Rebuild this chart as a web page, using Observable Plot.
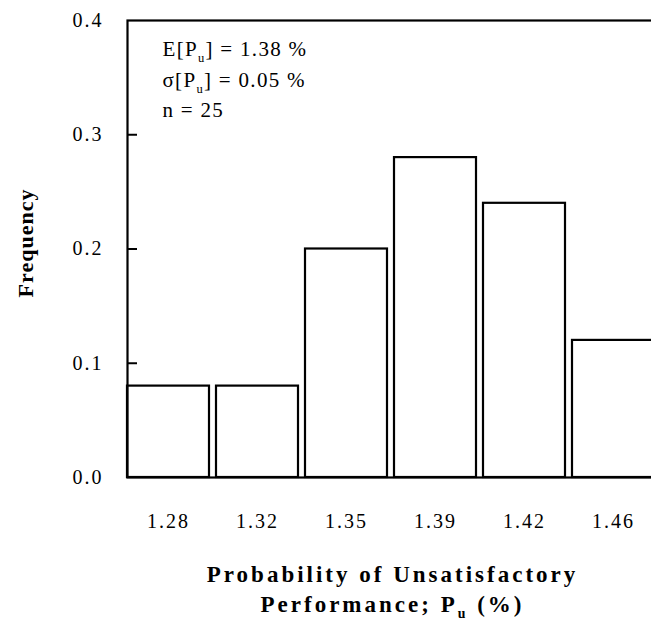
<!DOCTYPE html>
<html><head><meta charset="utf-8">
<script src="https://cdn.jsdelivr.net/npm/d3@7"></script>
<script src="https://cdn.jsdelivr.net/npm/@observablehq/plot@0.6"></script>
<style>
html,body{margin:0;padding:0;background:#fff;overflow:hidden;}
</style></head><body><div id="chart"></div>
<script>
const bins = ["1.28","1.32","1.35","1.39","1.42","1.46"];
const frequency = [0.08, 0.08, 0.20, 0.28, 0.24, 0.12];
const yTicks = [0, 0.1, 0.2, 0.3, 0.4];
const statsLines = ["E[P_u] = 1.38 %", "σ[P_u] = 0.05 %", "n = 25"];
const xLabelLines = ["Probability of Unsatisfactory", "Performance; P_u (%)"];
const yLabel = "Frequency";

const data = bins.map((b, i) => ({bin: b, freq: frequency[i]}));
const serif = "'Liberation Serif','Times New Roman',serif";

const plot = Plot.plot({
  width: 657, height: 627,
  marginTop: 20, marginBottom: 150, marginLeft: 127, marginRight: 0,
  style: {fontFamily: serif, fontSize: "20px", letterSpacing: "2px", color: "black", background: "white", maxWidth: "none"},
  x: {type: "band", domain: bins, paddingInner: 0.08, paddingOuter: 0, align: 0},
  y: {domain: [0, 0.4]},
  marks: [
    Plot.barY(data, {x: "bin", y: "freq", fill: "white", stroke: "black", strokeWidth: 2.2}),
    Plot.frame({stroke: "black", strokeWidth: 2.2}),
    Plot.ruleY(yTicks.slice(1, -1), {insetRight: 520, stroke: "black", strokeWidth: 2}),
    Plot.axisY({ticks: yTicks, tickSize: 0, tickPadding: 24, tickFormat: d3.format(".1f"), label: null}),
    Plot.axisX({tickSize: 0, tickPadding: 36, label: null}),
    ...statsLines.map((line, i) => Plot.text([line], {text: d => d, frameAnchor: "top-left", dx: 35, dy: 29 + 30.5 * i, lineAnchor: "middle", textAnchor: "start", fontSize: 21})),
    ...xLabelLines.map((line, i) => Plot.text([line], {text: d => d, frameAnchor: "bottom", dy: 97 + 30 * i, lineAnchor: "middle", textAnchor: "middle", fontSize: 23, fontWeight: "bold"})),
    Plot.text([yLabel], {text: d => d, frameAnchor: "left", dx: -102, dy: -6, rotate: -90, textAnchor: "middle", lineAnchor: "middle", fontSize: 22, fontWeight: "bold"})
  ]
});

d3.select(plot).selectAll("text").each(function() {
  const t = this.textContent;
  const sel = d3.select(this);
  if (xLabelLines.some(l => l === t)) sel.style("letter-spacing", "3px");
  if (statsLines.some(l => l === t)) sel.style("letter-spacing", "1.3px");
  if (t === yLabel) sel.style("letter-spacing", "1px");
  if (!t.includes("_u")) return;
  const [a, b] = t.split("_u");
  sel.text(null);
  sel.append("tspan").text(a);
  sel.append("tspan").attr("font-size", "0.6em").attr("dy", 6).text("u");
  sel.append("tspan").attr("dy", -6).text(b);
});

document.getElementById("chart").appendChild(plot);
</script></body></html>
